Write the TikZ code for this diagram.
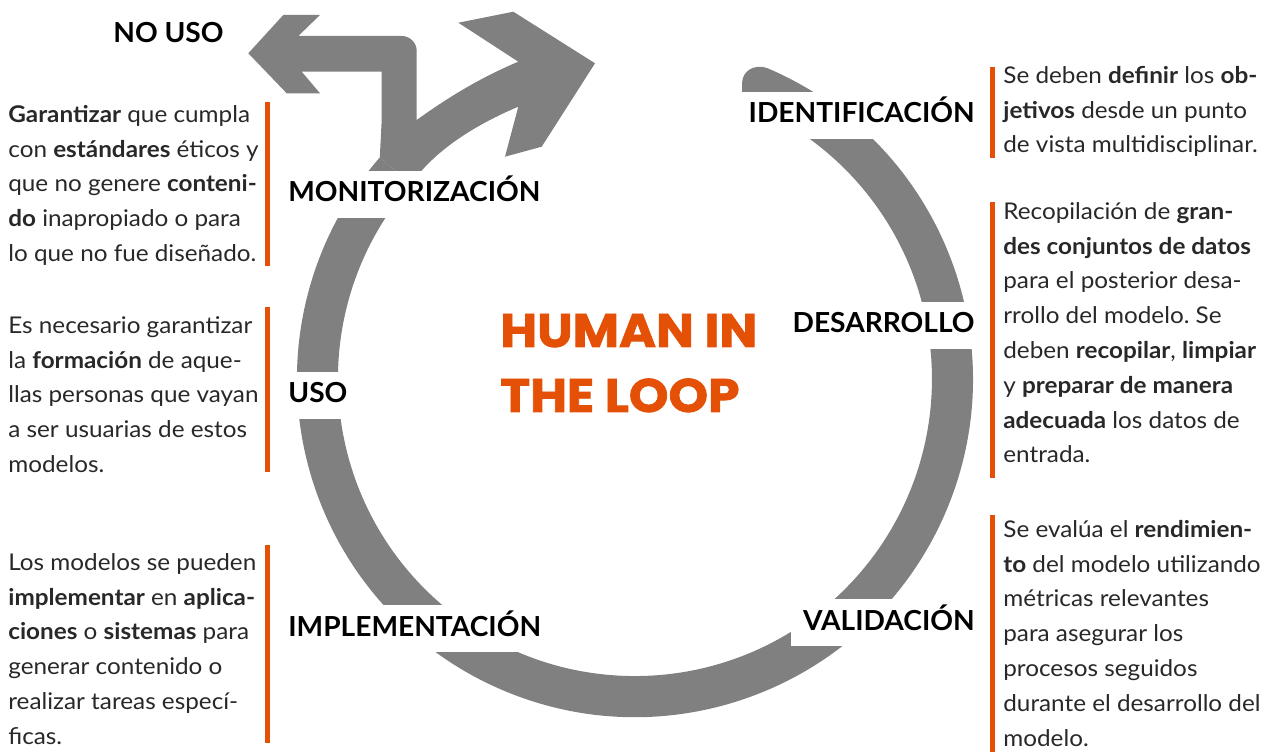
\documentclass[tikz,border=0pt]{standalone}
\usepackage{fontspec}
\setmainfont{Lato}[FakeStretch=1.055]
\newfontfamily\stagefont{Lato}[FakeStretch=1.02]
\newfontfamily\titlefont{Poppins}[BoldFeatures={FakeBold=1.6, FakeStretch=1.07}]
\definecolor{ringgray}{RGB}{128,128,128}
\definecolor{accent}{RGB}{228,80,6}
\definecolor{textblack}{RGB}{40,40,40}
\frenchspacing

\begin{document}
\begin{tikzpicture}[x=0.02cm, y=-0.02cm,
    stage/.style={font=\stagefont\bfseries\fontsize{15.7}{18}\selectfont, fill=white, inner xsep=0.25cm, inner ysep=0pt, text height=0.62cm, text depth=0.32cm},
    para/.style={font=\fontsize{13.1}{19.8}\selectfont, text=textblack, align=left, anchor=north west, inner sep=0pt},
    title/.style={font=\titlefont\bfseries\fontsize{26.8}{37}\selectfont, text=accent, anchor=base west, inner sep=0pt}]
    \useasboundingbox (0,0) rectangle (1264,756);

    % el ciclo
    \fill[ringgray] (742,102) -- (742,84) .. controls (742,70) and (755,64) .. (767,68)
        arc[start angle=-67, end angle=221, radius=338] -- (410.8,184.2)
        arc[start angle=221, end angle=-68.9, radius=297] -- cycle;

    % bifurcacion: no uso / vuelta al ciclo
    \fill[ringgray] (379.8,157.4) -- (381.7,120) -- (381.7,71.7) -- (301.7,71.7) -- (320,93.3)
        -- (286.7,93.3) -- (248.3,53.3) -- (283.3,15) -- (320,15) -- (298.3,36) -- (401.7,36)
        arc[start angle=-90, end angle=0, radius=15] -- (416.7,120)
        .. controls (450,96) and (482,77) .. (518.3,61.7) -- (458.3,22.7) -- (513.3,11.7)
        -- (595,63.3) -- (541.7,146.7) -- (505,156.7) -- (518.3,106.7)
        .. controls (475,125) and (435,150) .. (410.8,184.2) -- cycle;

    % etapas
    \node[stage, anchor=base east] (ident) at (987.5,123) {IDENTIFICACIÓN};
    \node[stage, anchor=base east] (desa) at (987.5,333) {DESARROLLO};
    \node[stage, anchor=base east] (vali) at (987.5,630) {VALIDACIÓN};
    \node[stage, anchor=base west] (impl) at (275.5,636) {IMPLEMENTACIÓN};
    \node[stage, anchor=base west] (uso) at (275.5,403) {USO};
    \node[stage, anchor=base west] (moni) at (275.5,202) {MONITORIZACIÓN};
    \node[stage, anchor=base west, fill=none] (nouso) at (100.5,43) {NO USO};

    % titulo
    \node[title] (title1) at (500,347) {HUMAN IN};
    \node[title] (title2) at (500,412) {THE LOOP};

    % barras
    \fill[accent] (265,102) rectangle (270,266);
    \fill[accent] (265,307) rectangle (270,472);
    \fill[accent] (265,545) rectangle (270,743);
    \fill[accent] (990,67) rectangle (995,158);
    \fill[accent] (990,202) rectangle (995,478);
    \fill[accent] (990,515) rectangle (995,752);

    % textos izquierda
    \node[para] (p-moni) at (8,97.7) {\strut\textbf{Garantizar} que cumpla\\con \textbf{estándares} éticos y\\que no genere \textbf{conteni-}\\\textbf{do} inapropiado o para\\lo que no fue diseñado.};
    \node[para] (p-uso) at (8,308.7) {\strut Es necesario garantizar\\la \textbf{formación} de aque-\\llas personas que vayan\\a ser usuarias de estos\\modelos.};
    \node[para] (p-impl) at (8,545.7) {\strut Los modelos se pueden\\\textbf{implementar} en \textbf{aplica-}\\\textbf{ciones} o \textbf{sistemas} para\\generar contenido o\\realizar tareas especí-\\ficas.};

    % textos derecha
    \node[para] (p-ident) at (1003,58.7) {\strut Se deben \textbf{definir} los \textbf{ob-}\\\textbf{jetivos} desde un punto\\de vista multidisciplinar.};
    \node[para] (p-desa) at (1003,194.7) {\strut Recopilación de \textbf{gran-}\\\textbf{des conjuntos de datos}\\para el posterior desa-\\rrollo del modelo. Se\\deben \textbf{recopilar}, \textbf{limpiar}\\y \textbf{preparar de manera}\\\textbf{adecuada} los datos de\\entrada.};
    \node[para] (p-vali) at (1003,512.7) {\strut Se evalúa el \textbf{rendimien-}\\\textbf{to} del modelo utilizando\\métricas relevantes\\para asegurar los\\procesos seguidos\\durante el desarrollo del\\modelo.};
\end{tikzpicture}
\end{document}
